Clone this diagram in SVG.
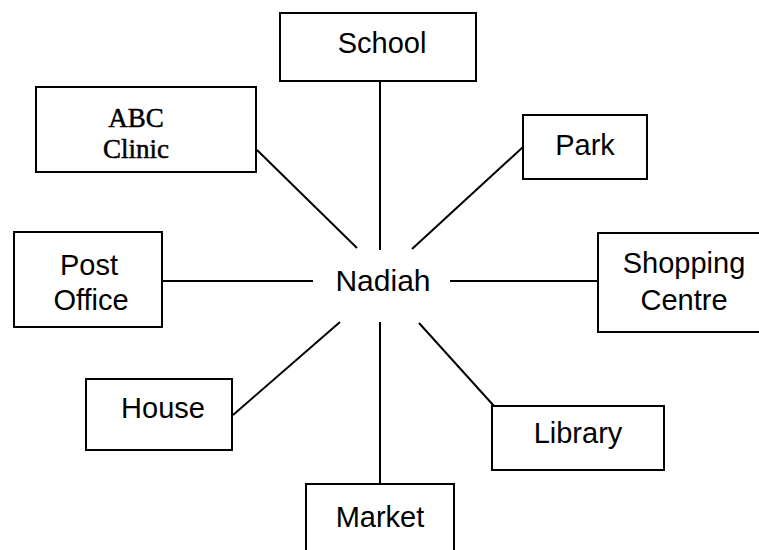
<svg xmlns="http://www.w3.org/2000/svg" width="759" height="550" viewBox="0 0 759 550">
<style>
.box{fill:#fff;stroke:#000;stroke-width:2}
.t{font-family:"Liberation Sans",Arial,sans-serif;font-size:29px;fill:#000;text-anchor:middle}
.s{font-family:"Liberation Serif","Times New Roman",serif;font-size:27px;fill:#000;stroke:#000;stroke-width:0.5;text-anchor:middle}
.c line{stroke:#000;stroke-width:2}
</style>
<rect width="759" height="550" fill="#fff"/>
<g id="connectors" class="c">
<line x1="380" y1="81" x2="380" y2="250"/>
<line x1="257" y1="150" x2="357" y2="248"/>
<line x1="523" y1="147" x2="412" y2="249"/>
<line x1="162" y1="281" x2="313" y2="281"/>
<line x1="450" y1="281" x2="598" y2="281"/>
<line x1="233" y1="415" x2="340" y2="322"/>
<line x1="380" y1="322" x2="380" y2="484"/>
<line x1="419" y1="323" x2="494" y2="406"/>
</g>
<g id="school"><rect class="box" x="280" y="13" width="196" height="68"/><text class="t" x="382" y="53">School</text></g>
<g id="abc-clinic"><rect class="box" x="36" y="87" width="220" height="85"/><text class="s" x="136" y="127">ABC</text><text class="s" x="136" y="158">Clinic</text></g>
<g id="park"><rect class="box" x="523" y="115" width="124" height="64"/><text class="t" x="585" y="155">Park</text></g>
<g id="post-office"><rect class="box" x="14" y="232" width="148" height="95"/><text class="t" x="89" y="275">Post</text><text class="t" x="91" y="310">Office</text></g>
<g id="nadiah"><text class="t" x="383" y="291" style="font-size:30px">Nadiah</text></g>
<g id="shopping-centre"><rect class="box" x="598" y="233" width="170" height="99"/><text class="t" x="684" y="273">Shopping</text><text class="t" x="684" y="310">Centre</text></g>
<g id="house"><rect class="box" x="86" y="379" width="146" height="71"/><text class="t" x="163" y="418">House</text></g>
<g id="library"><rect class="box" x="492" y="406" width="172" height="64"/><text class="t" x="578" y="443">Library</text></g>
<g id="market"><rect class="box" x="306" y="484" width="148" height="70"/><text class="t" x="380" y="527">Market</text></g>
</svg>
